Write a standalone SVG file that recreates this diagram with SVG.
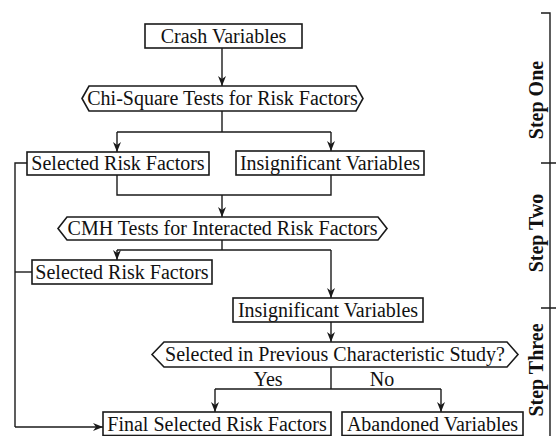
<svg xmlns="http://www.w3.org/2000/svg" width="556" height="436" viewBox="0 0 556 436">
<style>
.box{fill:#fff;stroke:#1a1a1a;stroke-width:1.6}
.ln{fill:none;stroke:#1a1a1a;stroke-width:1.4}
.t{font-family:"Liberation Serif","Times New Roman",serif;font-size:20px;fill:#111;text-anchor:middle}
.s{font-family:"Liberation Serif","Times New Roman",serif;font-size:20px;font-weight:bold;fill:#111;text-anchor:middle}
</style>
<defs>
<marker id="ah" markerWidth="12" markerHeight="10" refX="10" refY="4" orient="auto" markerUnits="userSpaceOnUse">
<path d="M0,0 L10,4 L0,8 L3,4 Z" fill="#1a1a1a"/>
</marker>
</defs>
<rect width="556" height="436" fill="#fff"/>
<g id="connectors">
<path class="ln" d="M222,48 V86" marker-end="url(#ah)"/>
<path class="ln" d="M222,111 V132 M117,132 H331"/>
<path class="ln" d="M117,132 V152" marker-end="url(#ah)"/>
<path class="ln" d="M331,132 V151" marker-end="url(#ah)"/>
<path class="ln" d="M117,175 V195 H331 V175"/>
<path class="ln" d="M222,195 V217" marker-end="url(#ah)"/>
<path class="ln" d="M222,240 V250 M117,250 H331"/>
<path class="ln" d="M117,250 V260" marker-end="url(#ah)"/>
<path class="ln" d="M331,250 V298" marker-end="url(#ah)"/>
<path class="ln" d="M331,322 V342" marker-end="url(#ah)"/>
<path class="ln" d="M331,367 V389 M215,389 H441"/>
<path class="ln" d="M215,389 V412" marker-end="url(#ah)"/>
<path class="ln" d="M441,389 V412" marker-end="url(#ah)"/>
<path class="ln" d="M27,163 H15 V427"/>
<path class="ln" d="M15,272 H32"/>
<path class="ln" d="M15,427 H103" marker-end="url(#ah)"/>
</g>
<g id="crash">
<rect class="box" x="145" y="24" width="157" height="24"/>
<text class="t" x="223.5" y="43">Crash Variables</text>
</g>
<g id="chi">
<polygon class="box" points="82,98.5 89,86 356,86 363,98.5 356,111 89,111"/>
<text class="t" x="222.5" y="105">Chi-Square Tests for Risk Factors</text>
</g>
<g id="selected1">
<rect class="box" x="27" y="152" width="182" height="23"/>
<text class="t" x="118" y="170">Selected Risk Factors</text>
</g>
<g id="insig1">
<rect class="box" x="236" y="151" width="188" height="24"/>
<text class="t" x="330" y="170">Insignificant Variables</text>
</g>
<g id="cmh">
<polygon class="box" points="58,228.5 67,217 378,217 387,228.5 378,240 67,240"/>
<text class="t" x="222.5" y="235">CMH Tests for Interacted Risk Factors</text>
</g>
<g id="selected2">
<rect class="box" x="32" y="260" width="180" height="24"/>
<text class="t" x="122" y="279">Selected Risk Factors</text>
</g>
<g id="insig2">
<rect class="box" x="233" y="298" width="190" height="24"/>
<text class="t" x="328" y="317">Insignificant Variables</text>
</g>
<g id="decision">
<polygon class="box" points="152,354.5 164,342 507,342 518,354.5 507,367 164,367"/>
<text class="t" x="335" y="361">Selected in Previous Characteristic Study?</text>
</g>
<g id="labels">
<text class="t" x="268" y="386">Yes</text>
<text class="t" x="382" y="386">No</text>
</g>
<g id="final">
<rect class="box" x="103" y="412" width="228" height="23.5"/>
<text class="t" x="217" y="431">Final Selected Risk Factors</text>
</g>
<g id="abandoned">
<rect class="box" x="342" y="412" width="181" height="23.5"/>
<text class="t" x="432.5" y="431">Abandoned Variables</text>
</g>
<g id="steps">
<path class="ln" d="M541,13 H550 V436 M541,163 H556 M541,308 H556"/>
<text class="s" transform="translate(543,100) rotate(-90)">Step One</text>
<text class="s" transform="translate(543,233) rotate(-90)">Step Two</text>
<text class="s" transform="translate(543,370) rotate(-90)">Step Three</text>
</g>
</svg>
